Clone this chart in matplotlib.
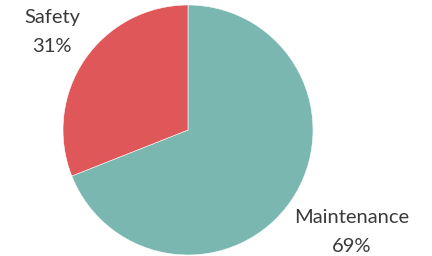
import matplotlib.pyplot as plt

labels = ['Maintenance', 'Safety']
shares = [69, 31]
colors = ['#79B7B0', '#E0575A']

W, H = 432, 256
fig = plt.figure(figsize=(W / 100, H / 100), dpi=100)
# pie centre ~ (188, 130) px, radius ~ 125 px
ax = fig.add_axes([63 / W, 1 / H, 250 / W, 250 / H])
ax.pie(shares, colors=colors, startangle=90, counterclock=False,
       wedgeprops=dict(edgecolor='white', linewidth=0.4))
ax.set_xlim(-1, 1)
ax.set_ylim(-1, 1)
ax.set_aspect('equal')

txt = dict(fontsize=14.5, color='#3a3a3a', family='Lato', ha='center', va='center',
           linespacing=1.8)
fig.text(52 / W, 1 - 32 / H, 'Safety\n31%', **txt)
fig.text(352 / W, 1 - 232 / H, 'Maintenance\n69%', **txt)

fig.savefig('out.png', dpi=100)
